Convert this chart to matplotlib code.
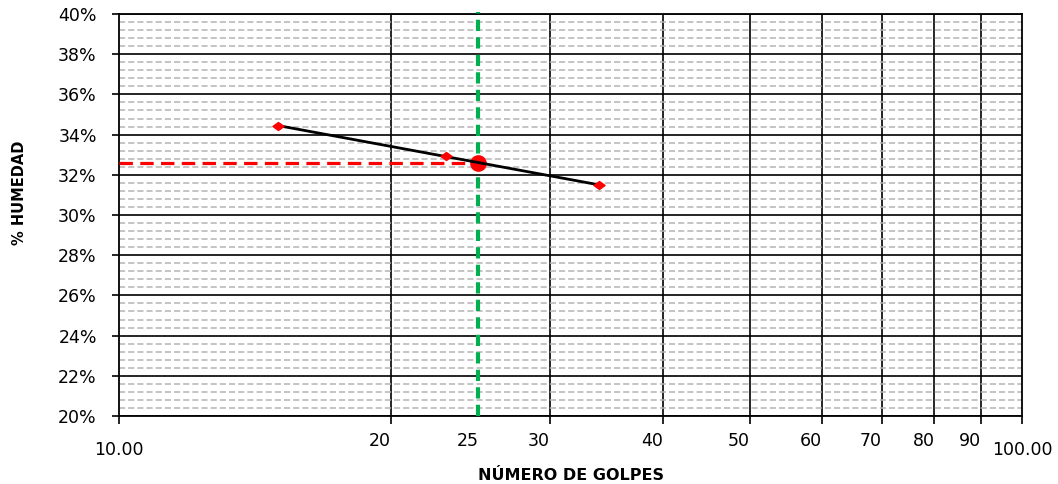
import matplotlib
matplotlib.use("Agg")
import matplotlib.pyplot as plt
from matplotlib.ticker import FixedLocator, MultipleLocator, FuncFormatter, NullFormatter
from matplotlib.path import Path
import matplotlib.transforms as mtransforms

# ---- data ----
golpes = [15, 23, 34]                 # number of blows
humedad = [34.45, 32.95, 31.5]        # moisture content, %
trend_x = [15, 34]                    # trend line ends
trend_y = [34.45, 31.5]
golpes_ref = 25                       # 25-blow reference
humedad_ll = 32.6                     # liquid limit read at 25 blows
grid_x = [20, 30, 40, 50, 60, 70, 80, 90]
text_x = [20, 25, 30, 40, 50, 60, 70, 80, 90]
text_lbl = ["20", "25", "30", "40", "50", "60", "70", "80", "90"]
x_major = [10, 100]
x_major_lbl = ["10.00", "100.00"]
y_ticks = [20, 22, 24, 26, 28, 30, 32, 34, 36, 38, 40]

plt.rcParams['font.family'] = ['DejaVu Sans']

W, H = 1058, 484
fig = plt.figure(figsize=(W / 100, H / 100), dpi=100)
L, R, T, B = 119, 1022, 14, 416
ax = fig.add_axes([L / W, 1 - B / H, (R - L) / W, (B - T) / H])

ax.set_xscale('log')
ax.set_xlim(10, 100)
ax.set_ylim(20, 40)

# y axis
ax.set_yticks(y_ticks)
ax.yaxis.set_major_formatter(FuncFormatter(lambda v, p: f"{v:.0f}%"))
ax.yaxis.set_minor_locator(MultipleLocator(0.4))
ax.tick_params(axis='y', which='major', direction='out', length=5, width=1.2,
               labelsize=12.5, pad=11, color='black')
ax.tick_params(axis='y', which='minor', length=0)

# x axis
ax.xaxis.set_major_locator(FixedLocator(x_major))
ax.set_xticklabels(x_major_lbl)
ax.xaxis.set_minor_locator(FixedLocator(grid_x))
ax.xaxis.set_minor_formatter(NullFormatter())
ax.tick_params(axis='x', which='both', direction='out', length=6, width=1.2,
               labelsize=12.5, pad=12, color='black')

# grids
ax.grid(which='minor', axis='y', color='#b4b4b4', linestyle=(0, (4, 2)), linewidth=1.1)
ax.grid(which='major', axis='y', color='black', linewidth=1.2)
ax.grid(which='minor', axis='x', color='black', linewidth=1.2)
ax.set_axisbelow(True)
for s in ax.spines.values():
    s.set_linewidth(1.3)
    s.set_color('black')

# free-standing blow-count labels placed just left of their grid lines
off = mtransforms.offset_copy(ax.get_xaxis_transform(), fig=fig, x=-11, y=0, units='dots')
for xv, lb in zip(text_x, text_lbl):
    ax.text(xv, -0.062, lb, transform=off, ha='center', va='center', fontsize=12.5)

# reference lines
ax.plot([10, golpes_ref], [humedad_ll, humedad_ll], color='#ff0000', linewidth=2.3,
        linestyle=(0, (4.2, 2.3)), zorder=3, clip_on=False)
ax.plot([golpes_ref, golpes_ref], [20, 40.1], color='#00b050', linewidth=3.0,
        linestyle=(0, (2.7, 1.5)), zorder=3, clip_on=False)
ax.plot([golpes_ref], [humedad_ll], marker='o', markersize=11, color='#ff0000',
        linestyle='none', zorder=4)

# trend line and measured points
ax.plot(trend_x, trend_y, color='black', linewidth=2.0, zorder=5)
diamond = Path([(-1, 0), (0, 0.72), (1, 0), (0, -0.72), (-1, 0)],
               [Path.MOVETO, Path.LINETO, Path.LINETO, Path.LINETO, Path.CLOSEPOLY])
ax.plot(golpes, humedad, linestyle='none', marker=diamond, markersize=8,
        color='#ff0000', zorder=6)

fig.text((L + R) / 2 / W, 1 - 476 / H, "NÚMERO DE GOLPES", ha='center', va='center',
         fontsize=11.5, fontweight='bold')
fig.text(20 / W, 1 - 193 / H, "% HUMEDAD", ha='center', va='center', rotation=90,
         fontsize=10.5, fontweight='bold')

fig.savefig("out.png", dpi=100)
